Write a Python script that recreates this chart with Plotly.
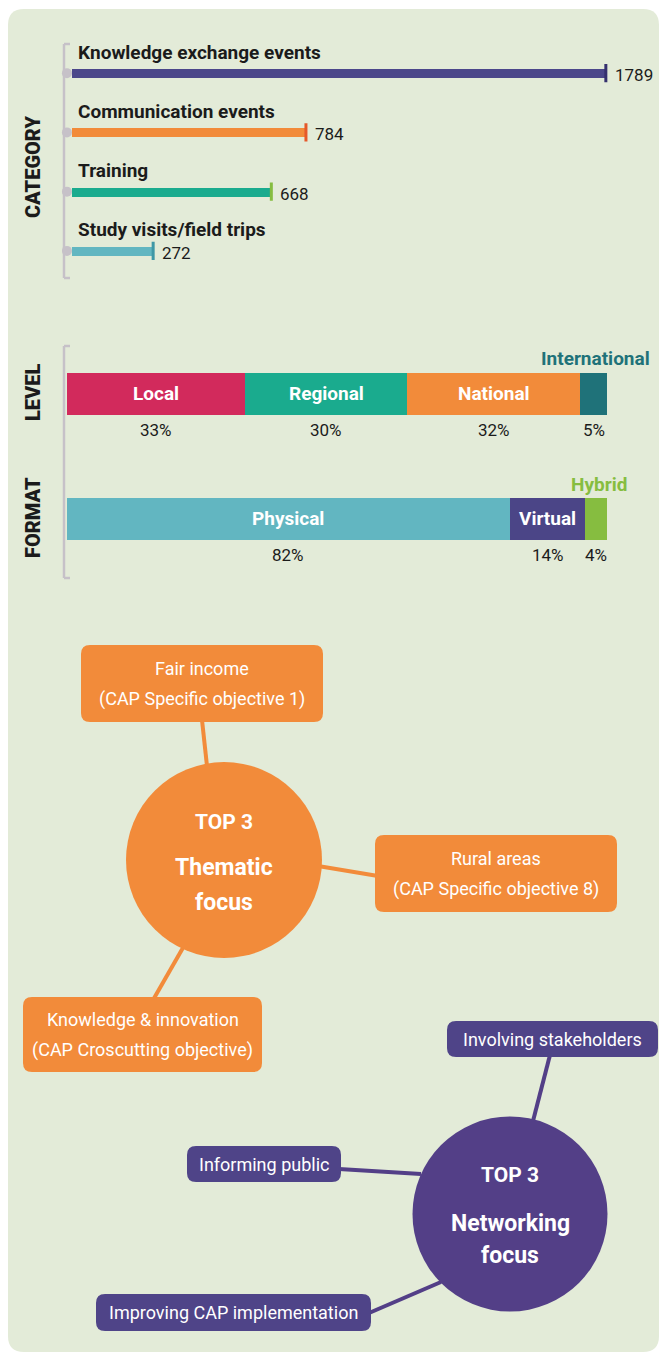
import plotly.graph_objects as go

W, H = 662, 1353

# ---------------- data ----------------
categories = ["Knowledge exchange events", "Communication events", "Training", "Study visits/field trips"]
category_counts = [1789, 784, 668, 272]
category_colors = ["#4b478a", "#f28b3a", "#1aab8e", "#62b6c1"]
category_cap_colors = ["#35306e", "#e5582a", "#86bd40", "#3f98a6"]

level_labels = ["Local", "Regional", "National", "International"]
level_pct = [33, 30, 32, 5]
level_colors = ["#d22a5c", "#1aab8e", "#f28b3a", "#1f7279"]

format_labels = ["Physical", "Virtual", "Hybrid"]
format_pct = [82, 14, 4]
format_colors = ["#62b6c1", "#4b4587", "#86bd40"]

rows = ["Level", "Format"]

thematic_title = ["TOP 3", "Thematic", "focus"]
thematic_items = [["Fair income", "(CAP Specific objective 1)"],
                  ["Rural areas", "(CAP Specific objective 8)"],
                  ["Knowledge & innovation", "(CAP Croscutting objective)"]]
networking_title = ["TOP 3", "Networking", "focus"]
networking_items = [["Involving stakeholders"], ["Informing public"], ["Improving CAP implementation"]]

# ---------------- style ----------------
FONT = "Roboto, Liberation Sans, sans-serif"
PANEL = "#e3ebd8"
INK = "#1b1b1b"
BRACKET = "#c6c1c8"
ORANGE = "#f28b3a"
PURPLE_C = "#533f87"
PURPLE_B = "#4f4488"


def px(x):
    return x / W


def py(y):
    return 1 - y / H


def rrect_path(x0, y0, x1, y1, r):
    pts = [
        ("M", [(x0 + r, y0)]), ("L", [(x1 - r, y0)]), ("Q", [(x1, y0), (x1, y0 + r)]),
        ("L", [(x1, y1 - r)]), ("Q", [(x1, y1), (x1 - r, y1)]),
        ("L", [(x0 + r, y1)]), ("Q", [(x0, y1), (x0, y1 - r)]),
        ("L", [(x0, y0 + r)]), ("Q", [(x0, y0), (x0 + r, y0)]),
    ]
    s = ""
    for cmd, ps in pts:
        s += cmd + " " + " ".join(f"{px(a):.5f},{py(b):.5f}" for a, b in ps) + " "
    return s + "Z"


fig = go.Figure()

# ---------------- category bars ----------------
zero_px, scale = 72.0, 0.2984
fig.add_trace(go.Bar(
    y=categories, x=category_counts, orientation="h", width=0.15,
    marker=dict(color=category_colors, line=dict(width=0)),
    xaxis="x", yaxis="y", showlegend=False, hoverinfo="skip"))
fig.add_trace(go.Scatter(
    y=categories, x=category_counts, mode="markers", xaxis="x", yaxis="y",
    marker=dict(symbol="line-ns", size=13, line=dict(width=3, color=category_cap_colors)),
    showlegend=False, hoverinfo="skip"))
fig.add_trace(go.Scatter(
    y=categories, x=[-17] * len(categories), mode="markers", xaxis="x", yaxis="y",
    marker=dict(symbol="circle", size=10, color=BRACKET),
    showlegend=False, hoverinfo="skip", cliponaxis=False))

ann = []
for c, v in zip(categories, category_counts):
    ann.append(dict(x=0, y=c, xref="x", yref="y", text=c, showarrow=False, xanchor="left",
                    yanchor="middle", xshift=4, yshift=21,
                    font=dict(family=FONT, size=19, color=INK, weight=700)))
    ann.append(dict(x=v, y=c, xref="x", yref="y", text=str(v), showarrow=False, xanchor="left",
                    yanchor="middle", xshift=7, yshift=-2,
                    font=dict(family=FONT, size=17, color=INK)))

# ---------------- level / format stacked bars ----------------
for lab, p, col in zip(level_labels, level_pct, level_colors):
    fig.add_trace(go.Bar(y=[rows[0]], x=[p], orientation="h", width=0.336, name=lab,
                         marker=dict(color=col, line=dict(width=0)),
                         xaxis="x2", yaxis="y2", showlegend=False, hoverinfo="skip"))
for lab, p, col in zip(format_labels, format_pct, format_colors):
    fig.add_trace(go.Bar(y=[rows[1]], x=[p], orientation="h", width=0.336, name=lab,
                         marker=dict(color=col, line=dict(width=0)),
                         xaxis="x2", yaxis="y2", showlegend=False, hoverinfo="skip"))


def seg_annotations(row, labels, pcts, colors, above_shift):
    out = []
    cum = 0
    for lab, p, col in zip(labels, pcts, colors):
        center = cum + p / 2
        cum += p
        if p >= 10:
            out.append(dict(x=center, y=row, xref="x2", yref="y2", text=lab, showarrow=False,
                            xanchor="center", yanchor="middle",
                            font=dict(family=FONT, size=19, color="white", weight=700)))
        else:
            out.append(dict(x=cum, y=row, xref="x2", yref="y2", text=lab, showarrow=False,
                            xanchor="right", yanchor="middle",
                            xshift=above_shift[0], yshift=above_shift[1],
                            font=dict(family=FONT, size=19, color=col, weight=700)))
        out.append(dict(x=center, y=row, xref="x2", yref="y2", text=f"{p}%", showarrow=False,
                        xanchor="center", yanchor="middle",
                        yshift=-37, font=dict(family=FONT, size=17, color=INK)))
    return out


ann += seg_annotations(rows[0], level_labels, level_pct, level_colors, (45, 35))
ann += seg_annotations(rows[1], format_labels, format_pct, format_colors, (22, 34))

# rotated side titles
ann.append(dict(x=px(33), y=py(167), xref="paper", yref="paper", text="CATEGORY", textangle=-90,
                xanchor="center", yanchor="middle",
                showarrow=False, font=dict(family=FONT, size=20, color=INK, weight=900)))
for r in rows:
    ann.append(dict(x=px(33), y=r, xref="paper", yref="y2", text=r.upper(), textangle=-90,
                    xanchor="center", yanchor="middle",
                    showarrow=False, font=dict(family=FONT, size=20, color=INK, weight=900)))

# ---------------- shapes ----------------
shapes = [dict(type="path", path=rrect_path(8, 9, 659, 1352, 16), xref="paper", yref="paper",
               fillcolor=PANEL, line=dict(width=0), layer="below")]

for (t, b) in [(44, 278), (346, 578)]:
    for (x0, y0, x1, y1) in [(64, t, 64, b), (64, t, 70, t), (64, b, 70, b)]:
        shapes.append(dict(type="line", xref="paper", yref="paper", x0=px(x0), y0=py(y0),
                           x1=px(x1), y1=py(y1), line=dict(color=BRACKET, width=2.5), layer="below"))


def bubble(center, radius, color, box_color, boxes, connectors, title, items, title_offsets, title_sizes):
    cx, cy = center
    for (a, b) in connectors:
        shapes.append(dict(type="line", xref="paper", yref="paper", x0=px(a[0]), y0=py(a[1]),
                           x1=px(b[0]), y1=py(b[1]), line=dict(color=color, width=4)))
    shapes.append(dict(type="circle", xref="paper", yref="paper", x0=px(cx - radius), x1=px(cx + radius),
                       y0=py(cy + radius), y1=py(cy - radius), fillcolor=color, line=dict(width=0)))
    for (x0, y0, x1, y1), lines in zip(boxes, items):
        shapes.append(dict(type="path", path=rrect_path(x0, y0, x1, y1, 9), xref="paper", yref="paper",
                           fillcolor=box_color, line=dict(width=0)))
        mx, my = (x0 + x1) / 2, (y0 + y1) / 2
        n = len(lines)
        for i, ln in enumerate(lines):
            yy = my + (i - (n - 1) / 2) * 30
            ann.append(dict(x=px(mx), y=py(yy), xref="paper", yref="paper", text=ln, showarrow=False,
                            xanchor="center", yanchor="middle",
                            font=dict(family=FONT, size=18, color="white")))
    for t, off, s in zip(title, title_offsets, title_sizes):
        ann.append(dict(x=px(cx), y=py(cy + off), xref="paper", yref="paper", text=t, showarrow=False,
                        xanchor="center", yanchor="middle",
                        font=dict(family=FONT, size=s, color="white", weight=700)))


bubble((224, 860), 98, ORANGE, ORANGE,
       [(81, 645, 323, 722), (375, 835, 617, 912), (23, 997, 262, 1072)],
       [((202, 720), (207, 766)), ((318, 866), (378, 876)), ((184, 946), (153, 1000))],
       thematic_title, thematic_items, [-38, 8, 42], [21, 23, 23])

bubble((510, 1214), 97.5, PURPLE_C, PURPLE_B,
       [(447, 1021, 658, 1057), (187, 1146, 341, 1182), (96, 1294, 371, 1331)],
       [((550, 1055), (533, 1121)), ((339, 1169), (421, 1174)), ((369, 1313), (441, 1282))],
       networking_title, networking_items, [-39, 9, 41], [21, 23, 23])

# ---------------- layout ----------------
hidden = dict(visible=False, showgrid=False, zeroline=False, fixedrange=True)
fig.update_layout(
    width=W, height=H, margin=dict(l=0, r=0, t=0, b=0),
    paper_bgcolor="white", plot_bgcolor="rgba(0,0,0,0)",
    barmode="stack", bargap=0,
    xaxis=dict(hidden, domain=[0, 1], range=[-zero_px / scale, (W - zero_px) / scale]),
    yaxis=dict(hidden, domain=[py(280.5), py(43.5)], type="category",
               categoryorder="array", categoryarray=categories, range=[3.5, -0.5]),
    xaxis2=dict(hidden, domain=[px(67), px(607)], range=[0, 100], anchor="y2"),
    yaxis2=dict(hidden, domain=[py(580.5), py(330.5)], type="category", anchor="x2",
                categoryorder="array", categoryarray=rows, range=[1.5, -0.5]),
    shapes=shapes, annotations=ann,
)

fig.write_html("out.html", config={"displayModeBar": False},
               post_script="document.body.style.margin='0px';")
